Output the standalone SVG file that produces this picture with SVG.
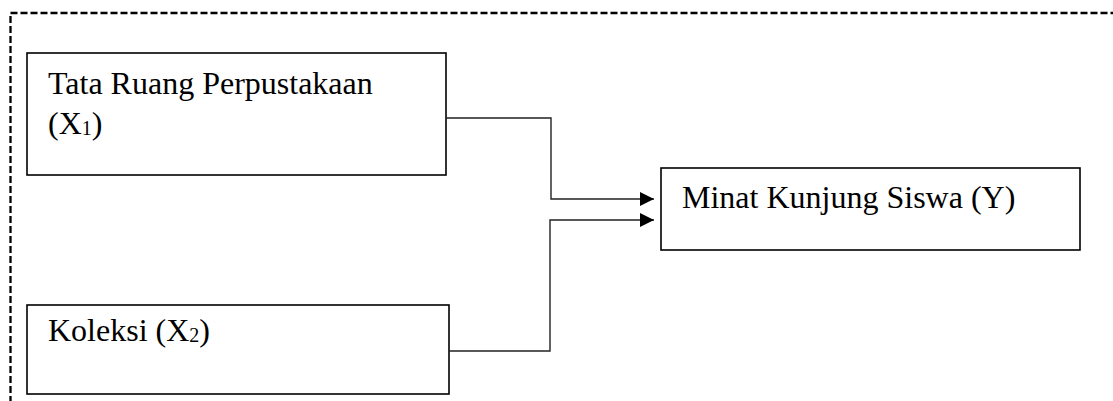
<svg xmlns="http://www.w3.org/2000/svg" width="1113" height="401" viewBox="0 0 1113 401">
<style>
.frame{fill:none;stroke:#000;stroke-width:2.3;stroke-dasharray:7,3}
.box{fill:#fff;stroke:#000;stroke-width:1.6}
.lbl{font-family:"Liberation Serif","Times New Roman",serif;font-size:32px;fill:#000}
.sub{font-size:20px}
.conn{fill:none;stroke:#222;stroke-width:1.4}
</style>
<defs>
<marker id="arr" markerUnits="userSpaceOnUse" markerWidth="14" markerHeight="14" refX="14" refY="7" orient="auto">
<path d="M0,0 L14,7 L0,14 Z" fill="#000"/>
</marker>
</defs>
<rect class="frame" x="10.5" y="13" width="1120" height="400"/>
<g id="node-x1">
<rect class="box" x="27" y="53" width="419" height="122"/>
<text class="lbl" x="48" y="94">Tata Ruang Perpustakaan</text>
<text class="lbl" x="48" y="134">(X<tspan class="sub" dy="1">1</tspan><tspan dy="-1">)</tspan></text>
</g>
<g id="node-x2">
<rect class="box" x="27" y="305" width="422" height="89"/>
<text class="lbl" x="48" y="341">Koleksi (X<tspan class="sub" dy="1">2</tspan><tspan dy="-1">)</tspan></text>
</g>
<g id="node-y">
<rect class="box" x="661" y="168" width="419" height="82"/>
<text class="lbl" x="682" y="208">Minat Kunjung Siswa (Y)</text>
</g>
<g id="connectors">
<path class="conn" d="M446,118 H551 V199 H654" marker-end="url(#arr)"/>
<path class="conn" d="M449,351 H550 V220 H654" marker-end="url(#arr)"/>
</g>
</svg>
